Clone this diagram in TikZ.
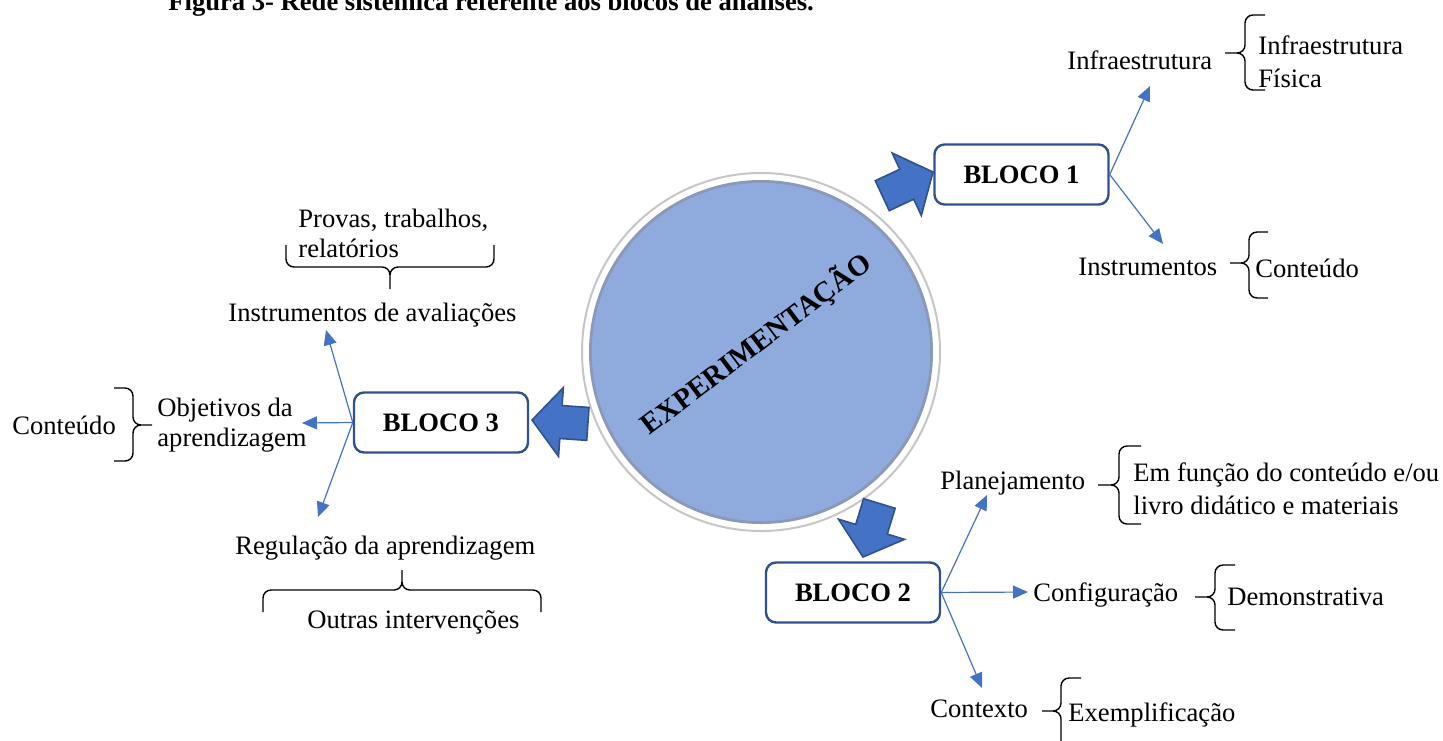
\documentclass[tikz,border=0pt]{standalone}
\usepackage{fontspec}
\setmainfont{Liberation Serif}
\usepackage{tikz}
\usetikzlibrary{arrows.meta, positioning, calc}

\definecolor{officeblue}{HTML}{4472C4}
\definecolor{officedark}{HTML}{2F528F}
\definecolor{orbblue}{HTML}{8FAADC}

\tikzset{
  bloco/.style={draw=officedark, line width=1.2pt, rounded corners=5pt, fill=white,
    minimum width=87pt, minimum height=30pt, font=\fontsize{13.3}{15}\selectfont\bfseries},
  txt/.style={inner sep=0pt, anchor=west, align=left, font=\fontsize{13.3}{15}\selectfont},
  link/.style={officeblue, line width=0.6pt, -{Triangle[length=7.5pt,width=6.5pt]}},
  curly/.style={black, line width=0.7pt, rounded corners=4pt},
  fatarrow/.pic={
    \draw[fill=officeblue, draw=officedark, line width=0.8pt, line join=miter]
      (0,0) -- (-29,34.5) -- (-29,16.5) -- (-56,16.5) -- (-56,-16.5)
      -- (-29,-16.5) -- (-29,-34.5) -- cycle;
  }
}

\begin{document}
\begin{tikzpicture}[x=0.5pt, y=-0.5pt]
  \useasboundingbox (0,0) rectangle (1443,740);

  % Title (cut at the top)
  \node[anchor=base west, inner sep=0pt, font=\fontsize{13.3}{15}\selectfont\bfseries]
    (titulo) at (168,10) {Figura 3- Rede sistêmica referente aos blocos de análises.};

  % Central circle
  \coordinate (orbc) at (761,352);
  \draw[gray!45, line width=1pt, fill=white] (orbc) circle (89.5pt);
  \fill[orbblue] (orbc) circle (85.5pt);
  \draw[gray!40!orbblue, line width=1.4pt] (orbc) circle (85.3pt);
  \node[font=\fontsize{14.5}{16}\selectfont\bfseries, rotate=37] (exper) at (756,344) {EXPERIMENTAÇÃO};

  % Block arrows
  \pic[rotate=25] at (933,172) {fatarrow};
  \pic[rotate=176] at (532,420) {fatarrow};
  \pic[rotate=253] at (863,557) {fatarrow};

  % Blocks
  \node[bloco] (b1) at (1021.5,174.5) {BLOCO 1};
  \node[bloco] (b2) at (853,592.5) {BLOCO 2};
  \node[bloco] (b3) at (441,422.5) {BLOCO 3};

  % Bloco 1
  \node[txt] (infra) at (1067,60) {Infraestrutura};
  \node[txt, font=\fontsize{13.3}{16.5}\selectfont] (infrafis) at (1258,61.5) {Infraestrutura\\Física};
  \node[txt] (instr1) at (1078,267) {Instrumentos};
  \node[txt] (cont1) at (1255,268) {Conteúdo};
  \coordinate (t-infra) at (1150,86);
  \coordinate (t-instr1) at (1163,244);
  \draw[link] (b1.east) -- (t-infra);
  \draw[link] (b1.east) -- (t-instr1);

  % Bloco 2
  \node[txt] (plan) at (940,483) {Planejamento};
  \node[txt, font=\fontsize{13.3}{16.5}\selectfont] (emfuncao) at (1133,488.5) {Em função do conteúdo e/ou\\livro didático e materiais};
  \node[txt] (config) at (1033,595) {Configuração};
  \node[txt] (demo) at (1227,597) {Demonstrativa};
  \node[txt] (contexto) at (930,709) {Contexto};
  \node[txt] (exempl) at (1068,715) {Exemplificação};
  \coordinate (t-plan) at (987,495);
  \coordinate (t-config) at (1028,592);
  \coordinate (t-contexto) at (982,688);
  \draw[link] (b2.east) -- (t-plan);
  \draw[link] (b2.east) -- (t-config);
  \draw[link] (b2.east) -- (t-contexto);

  % Bloco 3
  \node[txt] (provas) at (298,233) {Provas, trabalhos,\\relatórios};
  \node[txt] (avaliacoes) at (228,315) {Instrumentos de avaliações};
  \node[txt] (cont3) at (12,425) {Conteúdo};
  \node[txt] (objetivos) at (157,425) {Objetivos da\\aprendizagem};
  \node[txt] (regulacao) at (235,548) {Regulação da aprendizagem};
  \node[txt] (outras) at (307,622) {Outras intervenções};
  \coordinate (t-avaliacoes) at (326,330);
  \coordinate (t-objetivos) at (302,423);
  \coordinate (t-regulacao) at (318,517);
  \draw[link] (b3.west) -- (t-avaliacoes);
  \draw[link] (b3.west) -- (t-objetivos);
  \draw[link] (b3.west) -- (t-regulacao);

  % Braces (tip x / spine x / end x / top / tip y / bottom)
  \foreach \xt/\xv/\xe/\yt/\ym/\yb in {1225/1245/1265/15/53/90, 1230/1249/1268/232/263/298,
      152/133/114/388/425/461, 1098/1119/1141/446/485/524, 1195/1215/1235/565/597/630,
      1042/1061/1081/678/711/760} {
    \draw[curly] (\xe,\yt) -- (\xv,\yt) -- (\xv,\ym) -- (\xt,\ym)
                 (\xe,\yb) -- (\xv,\yb) -- (\xv,\ym) -- (\xt,\ym);
  }
  \draw[curly] (286,245) -- (286,267) -- (390,267) -- (390,289)
               (494,245) -- (494,267) -- (390,267) -- (390,289);
  \draw[curly] (263,612) -- (263,590) -- (402,590) -- (402,570)
               (541,612) -- (541,590) -- (402,590) -- (402,570);
\end{tikzpicture}
\end{document}
